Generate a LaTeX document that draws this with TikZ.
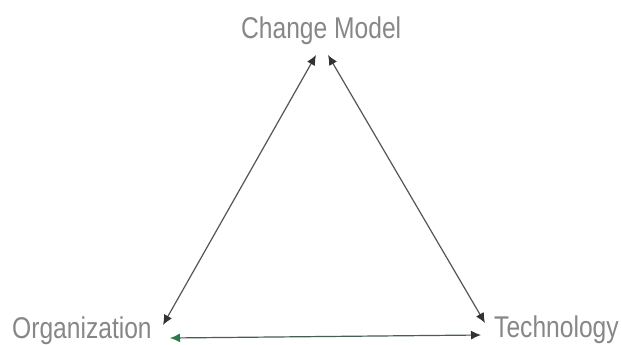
\documentclass[tikz,border=0pt]{standalone}
\usepackage{fontspec}
\setmainfont[FakeStretch=0.82]{Liberation Sans}
\usetikzlibrary{arrows.meta}
\definecolor{txtgray}{RGB}{135,135,135}
\definecolor{linegray}{RGB}{85,85,85}
\definecolor{headgray}{RGB}{50,50,50}
\definecolor{bottomline}{RGB}{70,95,80}
\definecolor{greenhead}{RGB}{40,125,75}
\tikzset{
  label/.style={inner sep=0pt, text=txtgray, font=\fontsize{30}{33}\selectfont},
  tip/.style={Latex[length=10pt,width=9pt,color=headgray]},
  conn/.style={draw=linegray, line width=1.2pt},
}
\begin{document}
\begin{tikzpicture}[x=1pt,y=-1pt]
\useasboundingbox[fill=white] (0,0) rectangle (621,345);
\node[label, anchor=base west] (cm) at (241,39) {Change Model};
\node[label, anchor=base west] (org) at (12,338) {Organization};
\node[label, anchor=base west] (tec) at (494,337) {Technology};
\coordinate (cmL) at (316,55);
\coordinate (cmR) at (328,55);
\coordinate (orgT) at (163,325);
\coordinate (orgR) at (170,338);
\coordinate (tecL) at (485,323);
\coordinate (tecB) at (481,335);
\draw[conn, {Latex[length=10pt,width=9pt,color=headgray]}-{Latex[length=10pt,width=9pt,color=headgray]}] (orgT) -- (cmL);
\draw[conn, {Latex[length=10pt,width=9pt,color=headgray]}-{Latex[length=10pt,width=9pt,color=headgray]}] (cmR) -- (tecL);
\draw[conn, draw=bottomline, {Latex[length=10pt,width=9pt,color=greenhead]}-{Latex[length=10pt,width=9pt,color=headgray]}] (orgR) -- (tecB);
\end{tikzpicture}
\end{document}
